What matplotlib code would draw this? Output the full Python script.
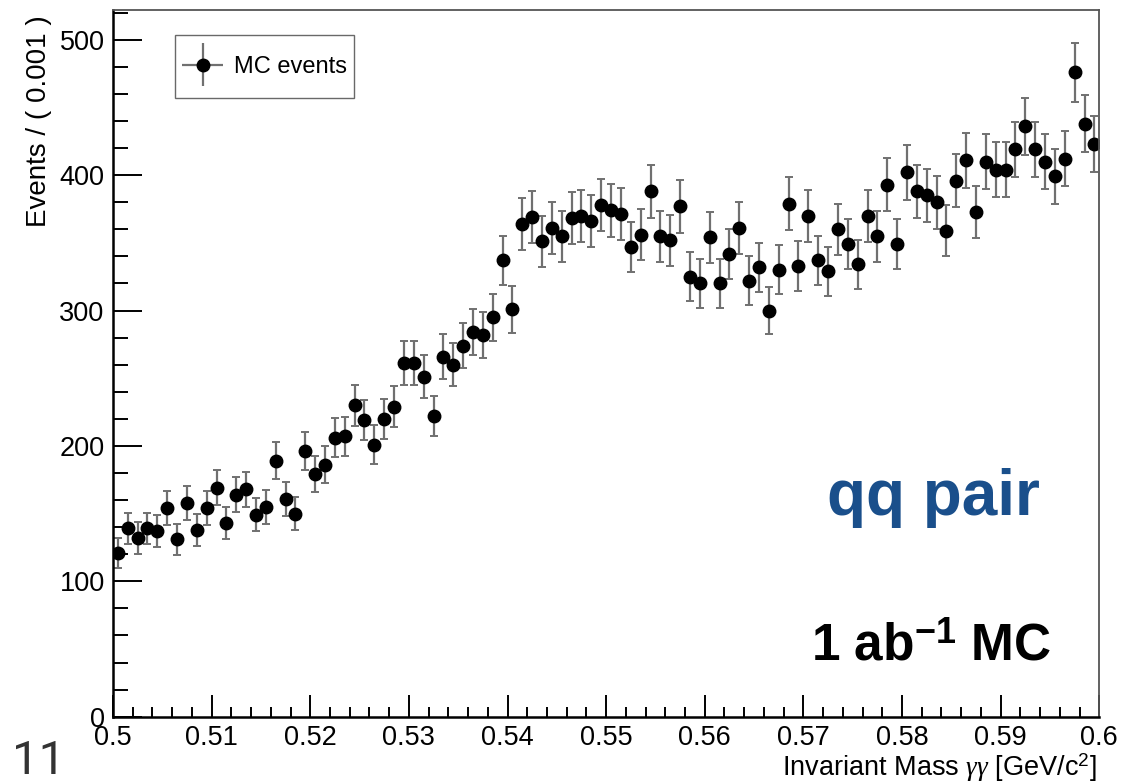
import matplotlib
matplotlib.use('Agg')
import matplotlib.pyplot as plt
import numpy as np
from matplotlib.container import ErrorbarContainer
from matplotlib.legend_handler import HandlerErrorbar
from matplotlib.ticker import MultipleLocator

plt.rcParams['font.family'] = ['Liberation Sans', 'DejaVu Sans']
plt.rcParams['mathtext.fontset'] = 'custom'
plt.rcParams['mathtext.rm'] = 'Liberation Sans'
plt.rcParams['mathtext.it'] = 'Liberation Serif:italic'
plt.rcParams['mathtext.bf'] = 'Liberation Sans:bold'

# histogram: 100 bins of 0.001 between 0.5 and 0.6
bin_lo = 0.5
bin_width = 0.001
counts = [121, 139, 132, 139, 137, 154, 131, 158, 138, 154,
          169, 143, 164, 168, 149, 155, 189, 161, 150, 196,
          179, 186, 206, 207, 230, 219, 201, 220, 229, 261,
          261, 251, 222, 266, 260, 274, 284, 282, 295, 337,
          301, 364, 369, 351, 361, 355, 368, 370, 366, 378,
          374, 371, 347, 356, 388, 355, 352, 377, 325, 320,
          354, 320, 342, 361, 322, 332, 300, 330, 379, 333,
          370, 337, 329, 360, 349, 334, 370, 355, 393, 349,
          402, 388, 385, 380, 359, 396, 411, 373, 410, 404,
          404, 419, 436, 419, 410, 399, 412, 476, 438, 423]
tick_labels = ['0.5', '0.51', '0.52', '0.53', '0.54', '0.55', '0.56',
               '0.57', '0.58', '0.59', '0.6']

counts = np.array(counts, dtype=float)
centers = bin_lo + bin_width * (np.arange(len(counts)) + 0.5)
errors = np.sqrt(counts)  # poisson errors


# errorbar legend handle, pushed down so it sits level with the label
class CenteredErrorbar(HandlerErrorbar):
    def __init__(self, shift=5.0, **kw):
        super().__init__(**kw)
        self.shift = shift

    def create_artists(self, legend, orig_handle, xdescent, ydescent, width,
                       height, fontsize, trans):
        return super().create_artists(legend, orig_handle, xdescent, ydescent,
                                      width, height - 2 * self.shift, fontsize, trans)


fig = plt.figure(figsize=(11.23, 7.83), dpi=100)
ax = fig.add_axes([0.1006, 0.0847, 0.8783, 0.9026])

eb = ax.errorbar(centers, counts, yerr=errors, fmt='o', color='black',
                 markersize=9, ecolor='#707070', elinewidth=1.6,
                 capsize=3.0, capthick=1.4)

ax.set_xlim(0.5, 0.6)
ax.set_ylim(0, 522)

# ROOT-ish axes
ax.set_xticks(np.arange(0.5, 0.6001, 0.01))
ax.set_xticklabels(tick_labels)
ax.xaxis.set_minor_locator(MultipleLocator(0.002))
ax.yaxis.set_major_locator(MultipleLocator(100))
ax.yaxis.set_minor_locator(MultipleLocator(20))
ax.tick_params(axis='x', which='major', direction='in', length=15.8, width=1.4,
               labelsize=19.5, pad=6, top=False)
ax.tick_params(axis='x', which='minor', direction='in', length=7.2, width=1.4, top=False)
ax.tick_params(axis='y', which='major', direction='in', length=20.9, width=1.4,
               labelsize=19.5, pad=6, right=False)
ax.tick_params(axis='y', which='minor', direction='in', length=10.8, width=1.4, right=False)

for side in ['left', 'bottom']:
    ax.spines[side].set_linewidth(1.8)
    ax.spines[side].set_color('black')
for side in ['top', 'right']:
    ax.spines[side].set_linewidth(1.3)
    ax.spines[side].set_color('#555555')

ax.set_ylabel('Events / ( 0.001 )', fontsize=20, loc='top')
ax.yaxis.set_label_coords(-0.062, 0.993)
ax.set_xlabel(r'Invariant Mass $\gamma\gamma$ [GeV/c$^{2}$]', fontsize=19.5, loc='right')
ax.xaxis.set_label_coords(0.9977, -0.05)

# legend with horizontal + vertical bars like a ROOT TLegend
proxy = ErrorbarContainer((eb.lines[0], [], eb.lines[2]), has_xerr=True,
                          has_yerr=True, label='MC events')
leg = ax.legend(handles=[proxy], loc='upper left', bbox_to_anchor=(0.0629, 0.9646),
                borderaxespad=0, fontsize=17, frameon=True, fancybox=False,
                handlelength=1.75, handleheight=2.8, handletextpad=0.45,
                borderpad=0.3,
                handler_map={ErrorbarContainer: CenteredErrorbar(shift=5.0, xerr_size=0.86,
                                                                 yerr_size=0.9)})
leg.get_frame().set_edgecolor('#444444')
leg.get_frame().set_linewidth(1.0)

ax.text(0.724, 0.2854, 'qq pair', transform=ax.transAxes, fontsize=46,
        fontweight='bold', color='#1a4f8b', va='baseline', ha='left')
ax.text(0.708, 0.0802, r'1 ab$^{\mathbf{-1}}$ MC', transform=ax.transAxes,
        fontsize=37, fontweight='bold', color='black', va='baseline', ha='left')

fig.text(0.0107, 0.012, '11', fontsize=34, color='#333333', va='baseline', ha='left',
         family=['Roboto', 'Liberation Sans'])

fig.savefig('out.png', dpi=100)
